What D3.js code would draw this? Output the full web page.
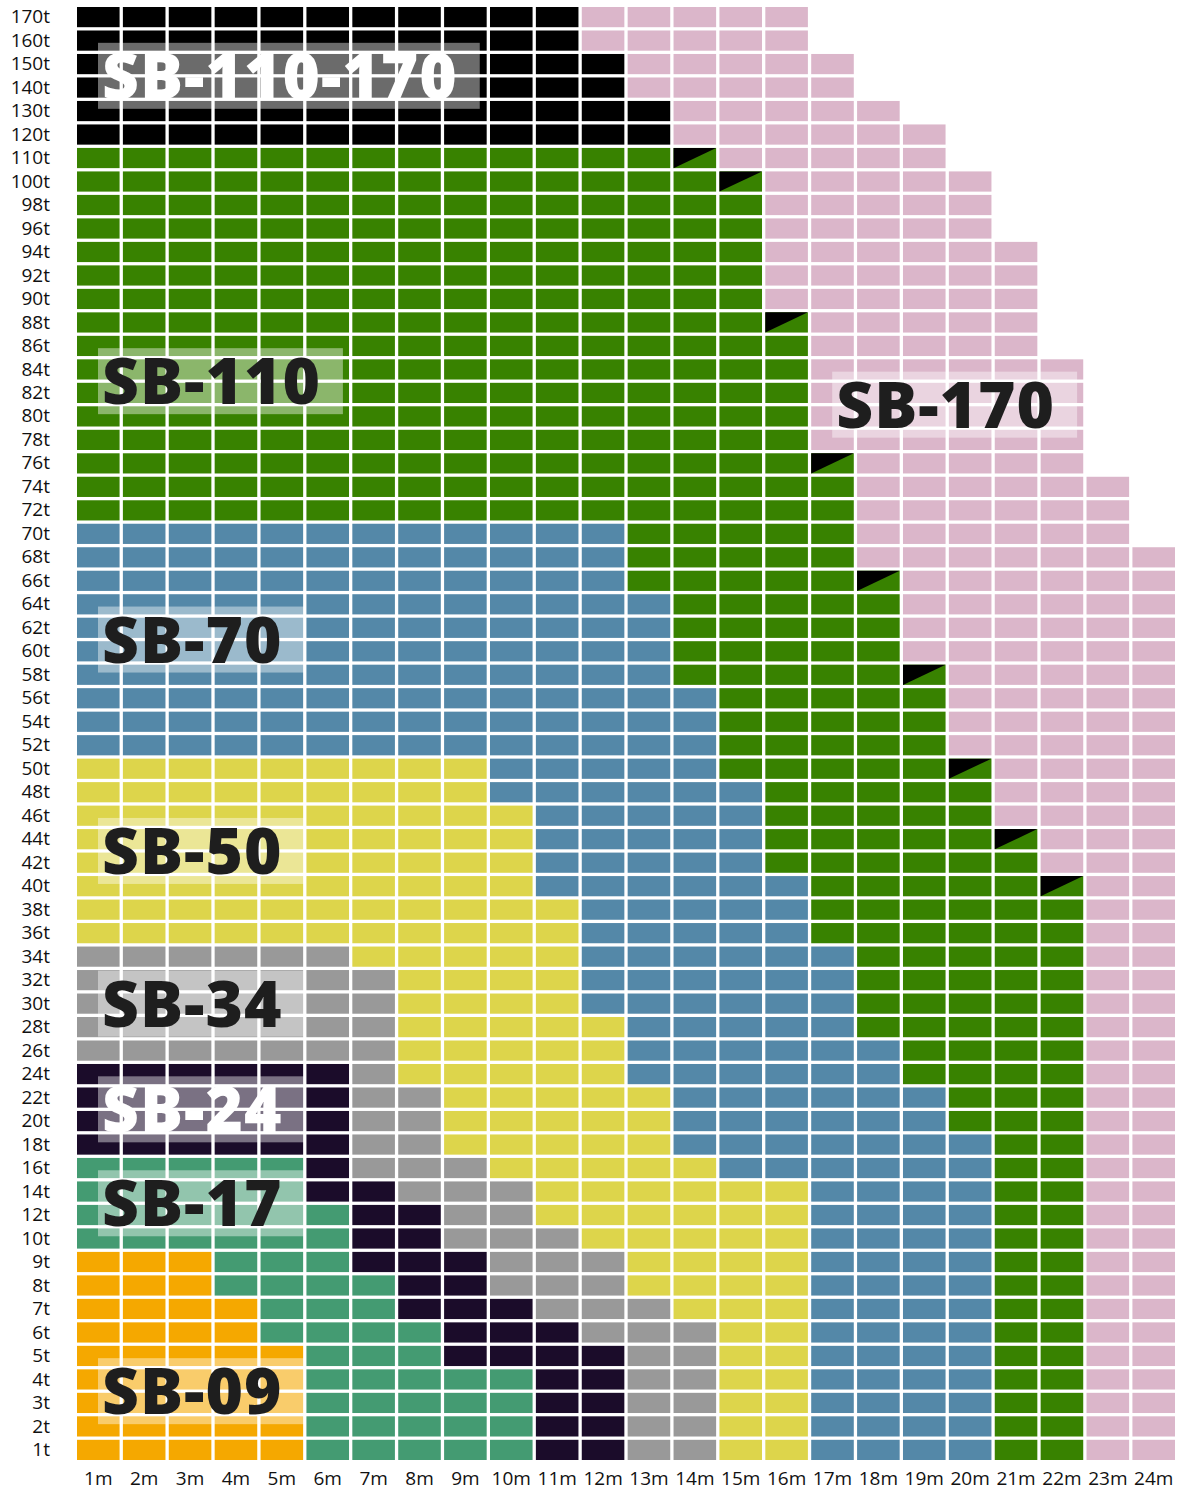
<!DOCTYPE html>
<html lang="en">

<head>
  <meta charset="UTF-8">
  <title>SB classes</title>
  <style>
    body { margin: 0; background: #fff; }
  </style>
</head>

<body>
  <svg id="svg" width="1178" height="1490"></svg>

  <script src="https://d3js.org/d3.v7.min.js"></script>
  <script>
    // tonnage rows, bottom to top
    const rowLabels = ['1t', '2t', '3t', '4t', '5t', '6t', '7t', '8t', '9t', '10t',
      '12t', '14t', '16t', '18t', '20t', '22t', '24t', '26t', '28t', '30t',
      '32t', '34t', '36t', '38t', '40t', '42t', '44t', '46t', '48t', '50t',
      '52t', '54t', '56t', '58t', '60t', '62t', '64t', '66t', '68t', '70t',
      '72t', '74t', '76t', '78t', '80t', '82t', '84t', '86t', '88t', '90t',
      '92t', '94t', '96t', '98t', '100t', '110t', '120t', '130t', '140t', '150t',
      '160t', '170t']
    const colLabels = ['1m', '2m', '3m', '4m', '5m', '6m', '7m', '8m', '9m', '10m', '11m', '12m',
      '13m', '14m', '15m', '16m', '17m', '18m', '19m', '20m', '21m', '22m', '23m', '24m']

    // number of cells of each class in every row (same order as rowLabels)
    const sb09 = [5, 5, 5, 5, 5, 4, 4, 3, 3, 0,
      0, 0, 0, 0, 0, 0, 0, 0, 0, 0,
      0, 0, 0, 0, 0, 0, 0, 0, 0, 0,
      0, 0, 0, 0, 0, 0, 0, 0, 0, 0,
      0, 0, 0, 0, 0, 0, 0, 0, 0, 0,
      0, 0, 0, 0, 0, 0, 0, 0, 0, 0,
      0, 0]
    const sb17 = [5, 5, 5, 5, 3, 4, 3, 4, 3, 6,
      6, 5, 5, 0, 0, 0, 0, 0, 0, 0,
      0, 0, 0, 0, 0, 0, 0, 0, 0, 0,
      0, 0, 0, 0, 0, 0, 0, 0, 0, 0,
      0, 0, 0, 0, 0, 0, 0, 0, 0, 0,
      0, 0, 0, 0, 0, 0, 0, 0, 0, 0,
      0, 0]
    const sb24 = [2, 2, 2, 2, 4, 3, 3, 2, 3, 2,
      2, 2, 1, 6, 6, 6, 6, 0, 0, 0,
      0, 0, 0, 0, 0, 0, 0, 0, 0, 0,
      0, 0, 0, 0, 0, 0, 0, 0, 0, 0,
      0, 0, 0, 0, 0, 0, 0, 0, 0, 0,
      0, 0, 0, 0, 0, 0, 0, 0, 0, 0,
      0, 0]
    const sb34 = [2, 2, 2, 2, 2, 3, 3, 3, 3, 3,
      2, 3, 3, 2, 2, 2, 1, 7, 7, 7,
      7, 6, 0, 0, 0, 0, 0, 0, 0, 0,
      0, 0, 0, 0, 0, 0, 0, 0, 0, 0,
      0, 0, 0, 0, 0, 0, 0, 0, 0, 0,
      0, 0, 0, 0, 0, 0, 0, 0, 0, 0,
      0, 0]
    const sb50 = [2, 2, 2, 2, 2, 2, 3, 4, 4, 5,
      6, 6, 5, 5, 5, 5, 5, 5, 5, 4,
      4, 5, 11, 11, 10, 10, 10, 10, 9, 9,
      0, 0, 0, 0, 0, 0, 0, 0, 0, 0,
      0, 0, 0, 0, 0, 0, 0, 0, 0, 0,
      0, 0, 0, 0, 0, 0, 0, 0, 0, 0,
      0, 0]
    const sb70 = [4, 4, 4, 4, 4, 4, 4, 4, 4, 4,
      4, 4, 6, 7, 6, 6, 6, 6, 5, 6,
      6, 6, 5, 5, 6, 5, 5, 5, 6, 5,
      14, 14, 14, 13, 13, 13, 13, 12, 12, 12,
      0, 0, 0, 0, 0, 0, 0, 0, 0, 0,
      0, 0, 0, 0, 0, 0, 0, 0, 0, 0,
      0, 0]
    const sb110 = [2, 2, 2, 2, 2, 2, 2, 2, 2, 2,
      2, 2, 2, 2, 3, 3, 4, 4, 5, 5,
      5, 5, 6, 6, 5, 6, 5, 5, 5, 5,
      5, 5, 5, 5, 5, 5, 5, 5, 5, 5,
      17, 17, 16, 16, 16, 16, 16, 16, 15, 15,
      15, 15, 15, 15, 14, 13, 0, 0, 0, 0,
      0, 0]
    // cells shared by SB-110 and SB-110-170 (drawn half/half)
    const shared = [0, 0, 0, 0, 0, 0, 0, 0, 0, 0,
      0, 0, 0, 0, 0, 0, 0, 0, 0, 0,
      0, 0, 0, 0, 1, 0, 1, 0, 0, 1,
      0, 0, 0, 1, 0, 0, 0, 1, 0, 0,
      0, 0, 1, 0, 0, 0, 0, 0, 1, 0,
      0, 0, 0, 0, 1, 1, 0, 0, 0, 0,
      0, 0]
    const sb110170 = [0, 0, 0, 0, 0, 0, 0, 0, 0, 0,
      0, 0, 0, 0, 0, 0, 0, 0, 0, 0,
      0, 0, 0, 0, 0, 0, 0, 0, 0, 0,
      0, 0, 0, 0, 0, 0, 0, 0, 0, 0,
      0, 0, 0, 0, 0, 0, 0, 0, 0, 0,
      0, 0, 0, 0, 0, 0, 13, 13, 12, 12,
      11, 11]
    const sb170 = [2, 2, 2, 2, 2, 2, 2, 2, 2, 2,
      2, 2, 2, 2, 2, 2, 2, 2, 2, 2,
      2, 2, 2, 2, 2, 3, 3, 4, 4, 4,
      5, 5, 5, 5, 6, 6, 6, 6, 7, 6,
      6, 6, 5, 6, 6, 6, 6, 5, 5, 6,
      6, 6, 5, 5, 5, 5, 6, 5, 5, 5,
      5, 5]

    const classes = ['SB-09', 'SB-17', 'SB-24', 'SB-34', 'SB-50', 'SB-70', 'SB-110', 'shared', 'SB-110-170', 'SB-170']
    const counts = [sb09, sb17, sb24, sb34, sb50, sb70, sb110, shared, sb110170, sb170]

    // class labels: name, rows spanned (label is centred between them), first column
    const labelNames = ['SB-110-170', 'SB-110', 'SB-170', 'SB-70', 'SB-50', 'SB-34', 'SB-24', 'SB-17', 'SB-09']
    const labelTop = ['150t', '84t', '82t', '62t', '44t', '32t', '22t', '14t', '4t']
    const labelBottom = ['140t', '82t', '80t', '60t', '42t', '28t', '20t', '12t', '3t']
    const labelCols = ['1m', '1m', '17m', '1m', '1m', '1m', '1m', '1m', '1m']

    const color = d3.scaleOrdinal()
      .domain(classes)
      .range(['#f5a800', '#449b72', '#1b0c2a', '#999999', '#ddd54b', '#5488a8', '#388200', '#388200', '#000000', '#dbb6ca'])

    // one object per cell
    const cells = []
    rowLabels.forEach((row, i) => {
      let c = 0
      classes.forEach((cls, k) => {
        for (let n = 0; n < counts[k][i]; n++) {
          cells.push({ row: row, col: colLabels[c], cls: cls })
          c++
        }
      })
    })

    const x = d3.scaleBand()
      .domain(colLabels)
      .range([77, 1175])
      .paddingInner(0.072)
    const y = d3.scaleBand()
      .domain(rowLabels.slice().reverse())
      .range([7, 1460])
      .paddingInner(0.14)

    const svg = d3.select('#svg')

    svg.append('g')
      .selectAll('rect')
      .data(cells)
      .enter()
      .append('rect')
      .attr('x', d => x(d.col))
      .attr('y', d => y(d.row))
      .attr('width', x.bandwidth())
      .attr('height', y.bandwidth())
      .attr('fill', d => color(d.cls))

    // black upper-left half on the shared cells
    svg.append('g')
      .selectAll('path')
      .data(cells.filter(d => d.cls === 'shared'))
      .enter()
      .append('path')
      .attr('d', d => {
        const x0 = x(d.col)
        const y0 = y(d.row)
        return d3.line()([[x0, y0], [x0 + x.bandwidth(), y0], [x0, y0 + y.bandwidth()]]) + 'Z'
      })
      .attr('fill', color('SB-110-170'))

    // axes
    svg.append('g')
      .attr('class', 'y-axis')
      .attr('transform', 'translate(77,0)')
      .call(d3.axisLeft(y).tickSize(0).tickPadding(27))
    svg.append('g')
      .attr('class', 'x-axis')
      .attr('transform', 'translate(0,1460)')
      .call(d3.axisBottom(x).tickSize(0).tickPadding(12))
    svg.selectAll('.domain').remove()
    svg.selectAll('.tick text')
      .style('font-family', '"Open Sans", sans-serif')
      .style('font-size', '19px')
      .attr('fill', '#111')

    // labels
    svg.append('g')
      .selectAll('g')
      .data(labelNames)
      .enter()
      .append('g')
      .each(function (name, i) {
        const g = d3.select(this)
        const cy = (y(labelTop[i]) + y(labelBottom[i]) + y.bandwidth()) / 2
        const tx = x(labelCols[i]) + 25
        const box = g.append('rect')
        const txt = g.append('text')
          .text(name)
          .attr('x', tx)
          .attr('y', cy + 23)
          .style('font-family', '"Open Sans", sans-serif')
          .style('font-weight', 800)
          .style('font-size', '64px')
          .style('letter-spacing', '1px')
          .attr('fill', (name === 'SB-110-170' || name === 'SB-24') ? '#fff' : '#1e1e1e')
        const w = txt.node().getComputedTextLength()
        box.attr('x', tx - 4)
          .attr('y', cy - 33)
          .attr('width', w + 26)
          .attr('height', 66)
          .attr('fill', '#fff')
          .attr('opacity', 0.42)
      })
  </script>
</body>

</html>
